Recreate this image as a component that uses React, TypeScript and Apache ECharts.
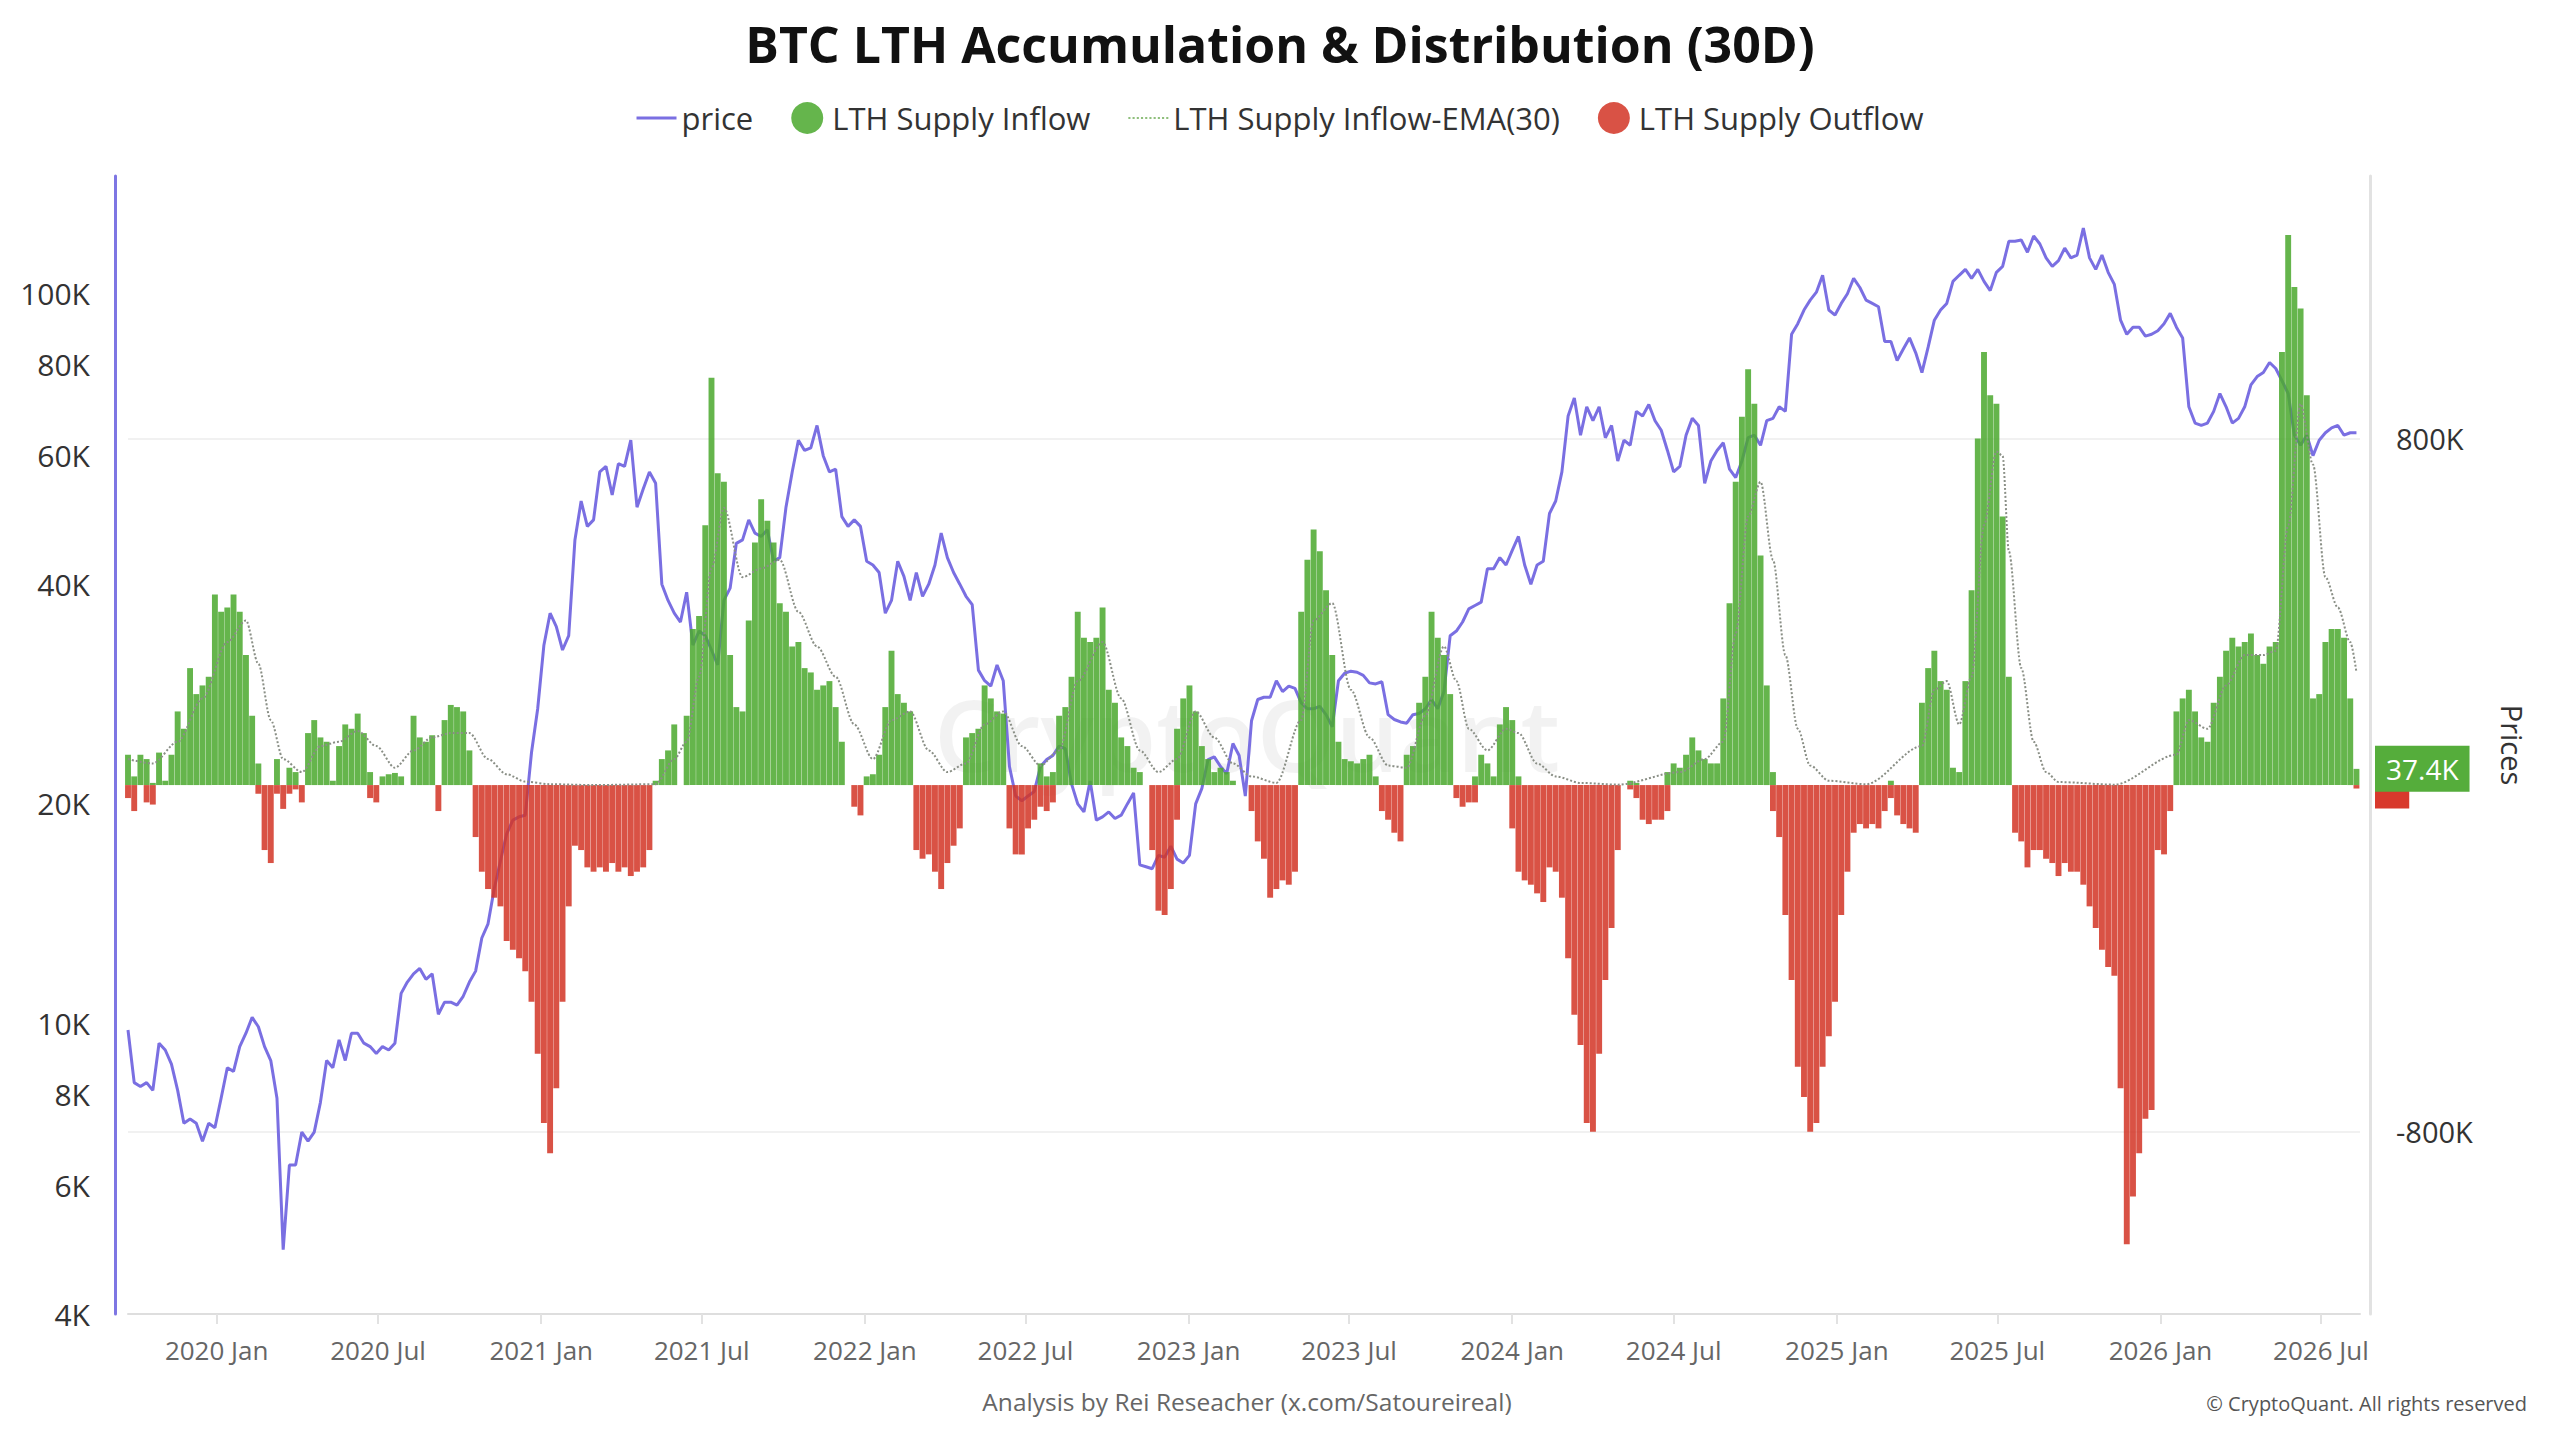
import React, { useEffect, useRef } from 'react';
import * as echarts from 'echarts';

const FONT = "'Open Sans', 'Noto Sans', sans-serif";
const START_DATE = '2019-09-23';
const END_DATE = '2026-08-14';
const WEEK_MS = 7 * 24 * 3600 * 1000;

// weekly BTC price (USD), one value per week from START_DATE
const priceUsd = [
  9800, 8300, 8200, 8300, 8100, 9400, 9200, 8800, 8100, 7300,
  7400, 7300, 6900, 7300, 7200, 7900, 8700, 8600, 9300, 9700,
  10200, 9900, 9300, 8900, 7900, 4900, 6400, 6400, 7100, 6900,
  7100, 7800, 8900, 8700, 9500, 8900, 9700, 9700, 9400, 9300,
  9100, 9300, 9200, 9400, 11000, 11400, 11700, 11900, 11500, 11700,
  10300, 10700, 10700, 10600, 10900, 11400, 11800, 13100, 13700, 15300,
  16700, 18200, 19000, 19200, 19300, 23500, 27000, 33000, 36500, 35000,
  32500, 34000, 46000, 52000, 48000, 49000, 57000, 58000, 53000, 58500,
  58000, 63000, 51000, 54000, 57000, 55000, 40000, 38000, 36500, 35500,
  39000, 33000, 34500, 34000, 32500, 31000, 38000, 39500, 45500, 46000,
  49000, 47000, 46500, 47500, 43000, 43500, 51000, 57000, 63000, 61000,
  61500, 66000, 60000, 57000, 57500, 49500, 48000, 49000, 48000, 43000,
  42500, 41500, 36500, 38000, 43000, 41000, 38000, 41500, 38500, 40000,
  42500, 47000, 43500, 41500, 40000, 38500, 37500, 30500, 29500, 29000,
  31000, 29500, 22500, 20500, 20200, 20500, 20800, 22500, 23000, 23300,
  24000, 23800, 21300, 20000, 19500, 21500, 19000, 19200, 19500, 19100,
  19300, 20000, 20700, 16500, 16400, 16300, 17000, 16900, 17500, 16800,
  16600, 17000, 20000, 21000, 23000, 23200, 22500, 22000, 24200, 23300,
  20500, 26000, 27800, 28000, 28000, 29500, 28500, 29000, 28800, 27500,
  27000, 27000, 27200, 26500, 25500, 29500, 30200, 30400, 30300, 30000,
  29300, 29200, 29400, 26500, 26100, 25900, 25800, 26500, 26600, 27000,
  27800, 27000, 28500, 34000, 34500, 35500, 37000, 37400, 37800, 42000,
  42000, 43500, 42500, 44500, 46500, 42500, 40000, 42500, 43000, 50000,
  52000, 57000, 68000, 72000, 64000, 70000, 67000, 70000, 63500, 66000,
  59000, 63000, 62000, 69000, 68000, 70500, 67000, 65000, 61000, 57000,
  58000, 64000, 67500, 66000, 55000, 59000, 61000, 62500, 57500, 56000,
  59000, 63500, 64000, 62000, 67000, 67500, 70000, 69000, 88000, 91000,
  95000, 98000, 100500, 106000, 95000, 93500, 97000, 100000, 105000, 102000,
  98000, 97000, 96000, 86000, 86000, 81000, 84000, 87000, 83000, 78000,
  84500, 92000, 95000, 97000, 104000, 106000, 108000, 105000, 108000, 104000,
  101000, 107000, 109000, 118000, 118000, 118500, 114000, 120000, 117000, 112000,
  109000, 111000, 115500, 112000, 113000, 123000, 112000, 108000, 113000, 107000,
  103000, 92000, 88000, 90000, 90000, 87500, 88000, 89000, 91000, 94000,
  90000, 87000, 70000, 66500, 66000, 66500, 69000, 73000, 70000, 66500,
  67500, 70000, 75000, 77000, 78000, 80500, 79000, 76000, 73000, 64000,
  62000, 64000, 60000, 63000, 64500, 65500, 66000, 64000, 64500, 64500,
];

// weekly LTH supply inflow (thousands)
const inflowK = [
  70, 20, 70, 60, 5, 75, 10, 70, 170, 130,
  270, 210, 230, 250, 440, 400, 410, 440, 400, 300,
  160, 50, 0, 0, 60, 0, 40, 30, 0, 120,
  150, 110, 100, 10, 90, 140, 130, 165, 120, 30,
  0, 20, 25, 28, 20, 0, 160, 110, 100, 115,
  0, 150, 185, 180, 170, 80, 0, 0, 0, 0,
  0, 0, 0, 0, 0, 0, 0, 0, 0, 0,
  0, 0, 0, 0, 0, 0, 0, 0, 0, 0,
  0, 0, 0, 0, 0, 10, 60, 80, 140, 0,
  160, 360, 390, 600, 940, 720, 700, 300, 180, 170,
  380, 560, 660, 610, 560, 420, 400, 320, 330, 270,
  260, 220, 230, 240, 180, 100, 0, 0, 0, 20,
  25, 70, 180, 310, 210, 190, 170, 0, 0, 0,
  0, 0, 0, 0, 0, 110, 120, 130, 230, 200,
  170, 165, 0, 0, 0, 0, 0, 50, 20, 30,
  160, 180, 250, 400, 340, 330, 340, 410, 220, 190,
  110, 90, 40, 30, 0, 0, 0, 0, 0, 130,
  200, 230, 170, 90, 60, 30, 40, 30, 10, 0,
  0, 0, 0, 0, 0, 0, 0, 0, 0, 400,
  520, 590, 540, 450, 300, 100, 60, 55, 50, 60,
  70, 20, 0, 0, 0, 0, 70, 90, 190, 250,
  400, 340, 300, 210, 0, 0, 0, 20, 70, 50,
  20, 140, 180, 150, 20, 0, 0, 0, 0, 0,
  0, 0, 0, 0, 0, 0, 0, 0, 0, 0,
  0, 0, 10, 5, 0, 0, 0, 0, 30, 50,
  40, 70, 110, 80, 60, 50, 50, 200, 420, 700,
  850, 960, 880, 530, 230, 30, 0, 0, 0, 0,
  0, 0, 0, 0, 0, 0, 0, 0, 0, 0,
  0, 0, 0, 0, 10, 0, 0, 0, 0, 190,
  270, 310, 240, 220, 40, 30, 240, 450, 800, 1000,
  900, 880, 620, 250, 0, 0, 0, 0, 0, 0,
  0, 0, 0, 0, 0, 0, 0, 0, 0, 0,
  0, 0, 0, 0, 0, 0, 0, 0, 0, 0,
  170, 200, 220, 170, 110, 100, 190, 250, 310, 340,
  320, 330, 350, 300, 280, 320, 330, 1000, 1270, 1150,
  1100, 900, 200, 210, 330, 360, 360, 340, 200, 37.4,
];

// weekly LTH supply outflow (thousands, negative)
const outflowK = [
  -30, -60, 0, -40, -45, 0, 0, 0, 0, 0,
  0, 0, 0, 0, 0, 0, 0, 0, 0, 0,
  0, -20, -150, -180, -20, -55, -20, -10, -40, 0,
  0, 0, 0, 0, 0, 0, 0, 0, 0, -30,
  -40, 0, 0, 0, 0, 0, 0, 0, 0, 0,
  -60, 0, 0, 0, 0, 0, -120, -200, -240, -260,
  -280, -360, -380, -400, -430, -500, -620, -780, -850, -700,
  -500, -280, -140, -150, -190, -200, -190, -200, -180, -200,
  -190, -210, -200, -190, -150, 0, 0, 0, 0, 0,
  0, 0, 0, 0, 0, 0, 0, 0, 0, 0,
  0, 0, 0, 0, 0, 0, 0, 0, 0, 0,
  0, 0, 0, 0, 0, 0, 0, -50, -70, 0,
  0, 0, 0, 0, 0, 0, 0, -150, -170, -160,
  -200, -240, -180, -140, -100, 0, 0, 0, 0, 0,
  0, 0, -100, -160, -160, -100, -80, -50, -60, -40,
  0, 0, 0, 0, 0, 0, 0, 0, 0, 0,
  0, 0, 0, 0, 0, -150, -290, -300, -240, -80,
  0, 0, 0, 0, 0, 0, 0, 0, 0, 0,
  0, -60, -130, -170, -260, -240, -220, -230, -200, 0,
  0, 0, 0, 0, 0, 0, 0, 0, 0, 0,
  0, 0, -60, -80, -110, -130, 0, 0, 0, 0,
  0, 0, 0, 0, -30, -50, -40, -40, 0, 0,
  0, 0, 0, -100, -200, -220, -230, -250, -270, -190,
  -200, -260, -400, -530, -600, -780, -800, -620, -450, -330,
  -150, 0, -10, -30, -80, -90, -80, -80, -60, 0,
  0, 0, 0, 0, 0, 0, 0, 0, 0, 0,
  0, 0, 0, 0, 0, -60, -120, -300, -450, -650,
  -720, -800, -780, -650, -580, -500, -300, -200, -110, -90,
  -100, -90, -100, -60, -30, -70, -90, -100, -110, 0,
  0, 0, 0, 0, 0, 0, 0, 0, 0, 0,
  0, 0, 0, 0, -110, -130, -190, -150, -150, -170,
  -180, -210, -180, -200, -200, -230, -280, -330, -380, -420,
  -440, -700, -1060, -950, -850, -770, -750, -150, -160, -60,
  0, 0, 0, 0, 0, 0, 0, 0, 0, 0,
  0, 0, 0, 0, 0, 0, 0, 0, 0, 0,
  0, 0, 0, 0, 0, 0, 0, 0, 0, -8,
];

// EMA(30) of inflow: [week index, thousands]
const emaPoints: [number, number][] = [
  [0, 60], [4, 50], [8, 100], [12, 200], [16, 330], [19, 380], [21, 280], [23, 150], [25, 60], [28, 30],
  [31, 90], [34, 100], [37, 125], [40, 90], [43, 40], [46, 80], [49, 110], [52, 120], [55, 120], [58, 60],
  [61, 25], [64, 8], [68, 2], [75, 0], [85, 2], [88, 60], [90, 100], [92, 250], [94, 500], [96, 640],
  [99, 480], [102, 500], [105, 520], [108, 400], [111, 320], [114, 250], [117, 140], [120, 60], [123, 150], [126, 170],
  [129, 80], [132, 30], [135, 50], [138, 140], [141, 170], [144, 90], [147, 45], [150, 80], [153, 240], [157, 330],
  [160, 200], [163, 80], [166, 30], [169, 60], [172, 170], [175, 110], [178, 50], [181, 20], [185, 5], [189, 150],
  [191, 380], [194, 420], [197, 220], [200, 110], [203, 45], [206, 40], [209, 160], [212, 320], [214, 240], [216, 130],
  [219, 80], [222, 130], [224, 120], [227, 50], [230, 20], [234, 5], [240, 1], [250, 30], [254, 60], [257, 100],
  [259, 350], [261, 620], [263, 700], [265, 520], [267, 300], [269, 130], [271, 45], [274, 10], [280, 2], [289, 90],
  [291, 220], [293, 240], [295, 140], [297, 250], [299, 600], [301, 770], [302, 760], [303, 540], [305, 270], [307, 100],
  [309, 30], [311, 7], [320, 1], [330, 70], [332, 150], [335, 130], [338, 230], [341, 300], [344, 300], [346, 310],
  [348, 600], [350, 880], [352, 740], [354, 480], [356, 410], [358, 330], [359, 260],
];

const xTickDates = [
  '2020-01-01', '2020-07-01', '2021-01-01', '2021-07-01', '2022-01-01', '2022-07-01', '2023-01-01',
  '2023-07-01', '2024-01-01', '2024-07-01', '2025-01-01', '2025-07-01', '2026-01-01', '2026-07-01',
];
const priceTicks = [4000, 6000, 8000, 10000, 20000, 40000, 60000, 80000, 100000];
const flowTicks = [-800000, 800000];
const PRICE_MIN = 4000;
const PRICE_MAX = 145000;
const FLOW_MIN = -1221000;
const FLOW_MAX = 1406000;

const MONTHS = ['Jan', 'Feb', 'Mar', 'Apr', 'May', 'Jun', 'Jul', 'Aug', 'Sep', 'Oct', 'Nov', 'Dec'];

const LINE_ICON = 'path://M0,0h40v3h-40z';
const DOT_ICON =
  'path://M0,0h2v2h-2z M4,0h2v2h-2z M8,0h2v2h-2z M12,0h2v2h-2z M16,0h2v2h-2z M20,0h2v2h-2z M24,0h2v2h-2z M28,0h2v2h-2z M32,0h2v2h-2z M36,0h2v2h-2z';

export default function App() {
  const ref = useRef<HTMLDivElement>(null);

  useEffect(() => {
    document.body.style.margin = '0';
    document.body.style.overflow = 'hidden';
    const chart = echarts.init(ref.current as HTMLDivElement, null, { renderer: 'svg' });
    const t0 = Date.parse(START_DATE + 'T00:00:00Z');
    const tEnd = Date.parse(END_DATE + 'T00:00:00Z');
    const ts = (i: number) => t0 + i * WEEK_MS;

    const priceData = priceUsd.map((v, i) => [ts(i), Math.log10(v)]);
    const inflowData = inflowK.map((v, i) => [ts(i), v * 1000]);
    const outflowData = outflowK.map((v, i) => [ts(i), v * 1000]);
    const emaData = emaPoints.map(([w, v]) => [ts(w), v * 1000]);
    const xTicks = xTickDates.map((d) => Date.parse(d + 'T00:00:00Z'));
    const lastIn = inflowK[inflowK.length - 1] * 1000;
    const lastOut = outflowK[outflowK.length - 1] * 1000;

    const option: any = {
      animation: false,
      backgroundColor: '#ffffff',
      textStyle: { fontFamily: FONT },
      title: {
        text: 'BTC LTH Accumulation & Distribution (30D)',
        left: 'center',
        top: 14,
        textStyle: { fontSize: 50, fontWeight: 'bold', color: '#111', fontFamily: FONT },
      },
      legend: {
        top: 97,
        left: 'center',
        itemGap: 38,
        itemWidth: 40,
        itemHeight: 32,
        textStyle: { fontSize: 31, color: '#333', fontFamily: FONT },
        data: [
          { name: 'price', icon: LINE_ICON },
          { name: 'LTH Supply Inflow', icon: 'circle' },
          { name: 'LTH Supply Inflow-EMA(30)', icon: DOT_ICON },
          { name: 'LTH Supply Outflow', icon: 'circle' },
        ],
      },
      grid: { left: 128, right: 200, top: 176, bottom: 118, containLabel: false },
      xAxis: {
        type: 'value',
        min: t0,
        max: tEnd,
        axisLine: { show: true, onZero: false, lineStyle: { color: '#dedede', width: 2 } },
        axisTick: { show: true, customValues: xTicks, length: 10, lineStyle: { color: '#e2e2e2', width: 2 } },
        splitLine: { show: false },
        axisLabel: {
          customValues: xTicks,
          formatter: (v: number) => {
            const d = new Date(v);
            return d.getUTCFullYear() + ' ' + MONTHS[d.getUTCMonth()];
          },
          fontSize: 26,
          color: '#666',
          margin: 23,
          fontFamily: FONT,
        },
      },
      yAxis: [
        {
          type: 'value',
          position: 'left',
          offset: 13,
          min: Math.log10(PRICE_MIN),
          max: Math.log10(PRICE_MAX),
          axisLine: { show: true, lineStyle: { color: '#7e76e3', width: 3 } },
          axisTick: { show: false },
          splitLine: { show: false },
          axisLabel: {
            customValues: priceTicks.map((v) => Math.log10(v)),
            formatter: (v: number) => Math.round(Math.pow(10, v) / 1000) + 'K',
            fontSize: 30,
            color: '#333',
            margin: 25,
            fontFamily: FONT,
          },
        },
        {
          type: 'value',
          position: 'right',
          offset: 10,
          min: FLOW_MIN,
          max: FLOW_MAX,
          name: 'Prices',
          nameLocation: 'middle',
          nameRotate: -90,
          nameGap: 128,
          nameTextStyle: { fontSize: 29, color: '#333', fontFamily: FONT },
          axisLine: { show: true, lineStyle: { color: '#e2e2e2', width: 3 } },
          axisTick: { show: false, customValues: flowTicks },
          splitLine: { show: true, lineStyle: { color: '#f1f1f1', width: 2 } },
          axisLabel: {
            customValues: flowTicks,
            formatter: (v: number) => Math.round(v / 1000) + 'K',
            fontSize: 29,
            color: '#333',
            margin: 26,
            fontFamily: FONT,
          },
        },
      ],
      graphic: [
        {
          type: 'text',
          x: 1247,
          y: 733,
          z: 0,
          silent: true,
          style: {
            text: 'CryptoQuant',
            fontSize: 100,
            fontWeight: 600,
            fontFamily: FONT,
            fill: 'rgba(0,0,0,0.05)',
            align: 'center',
            verticalAlign: 'middle',
            textAlign: 'center',
            textVerticalAlign: 'middle',
          },
        },
        {
          type: 'text',
          x: 1247,
          y: 1401,
          style: {
            text: 'Analysis by Rei Reseacher (x.com/Satoureireal)',
            fontSize: 24.5,
            fontFamily: FONT,
            fill: '#666',
            align: 'center',
            verticalAlign: 'middle',
            textAlign: 'center',
            textVerticalAlign: 'middle',
          },
        },
        {
          type: 'text',
          x: 2527,
          y: 1403,
          style: {
            text: '© CryptoQuant. All rights reserved',
            fontSize: 20,
            fontFamily: FONT,
            fill: '#555',
            align: 'right',
            verticalAlign: 'middle',
            textAlign: 'right',
            textVerticalAlign: 'middle',
          },
        },
      ],
      series: [
        {
          name: 'price',
          type: 'line',
          yAxisIndex: 0,
          data: priceData,
          symbol: 'none',
          lineStyle: { color: '#7a6fe2', width: 3 },
          itemStyle: { color: '#7a6fe2' },
          z: 2,
        },
        {
          name: 'LTH Supply Inflow',
          type: 'bar',
          yAxisIndex: 1,
          data: inflowData,
          barGap: '-100%',
          barCategoryGap: '5%',
          itemStyle: { color: '#4ca92e', opacity: 0.86 },
          z: 3,
          markLine: {
            silent: true,
            symbol: 'none',
            z: 6,
            lineStyle: { width: 0, color: 'rgba(0,0,0,0)' },
            label: {
              show: true,
              position: 'end',
              distance: 15,
              formatter: () => (lastIn / 1000).toFixed(1) + 'K',
              color: '#ffffff',
              backgroundColor: '#55ad3b',
              padding: [9, 11],
              fontSize: 28,
              fontFamily: FONT,
            },
            data: [{ yAxis: lastIn }],
          },
        },
        {
          name: 'LTH Supply Inflow-EMA(30)',
          type: 'line',
          yAxisIndex: 1,
          data: emaData,
          symbol: 'none',
          smooth: 0.3,
          smoothMonotone: 'x',
          lineStyle: { color: '#8a8f86', width: 2, type: 'dotted' },
          itemStyle: { color: '#8fbf7c' },
          z: 4,
        },
        {
          name: 'LTH Supply Outflow',
          type: 'bar',
          yAxisIndex: 1,
          data: outflowData,
          barGap: '-100%',
          barCategoryGap: '5%',
          itemStyle: { color: '#d33526', opacity: 0.86 },
          z: 3,
          markLine: {
            silent: true,
            symbol: 'none',
            z: 5,
            lineStyle: { width: 0, color: 'rgba(0,0,0,0)' },
            label: {
              show: true,
              position: 'end',
              distance: 15,
              formatter: () => ' ',
              backgroundColor: '#d8392c',
              padding: [8, 14],
              fontSize: 24,
              fontFamily: FONT,
            },
            data: [{ yAxis: lastOut }],
          },
        },
      ],
    };

    chart.setOption(option);
    return () => {
      chart.dispose();
    };
  }, []);

  return <div ref={ref} style={{ width: 2560, height: 1432 }} />;
}
